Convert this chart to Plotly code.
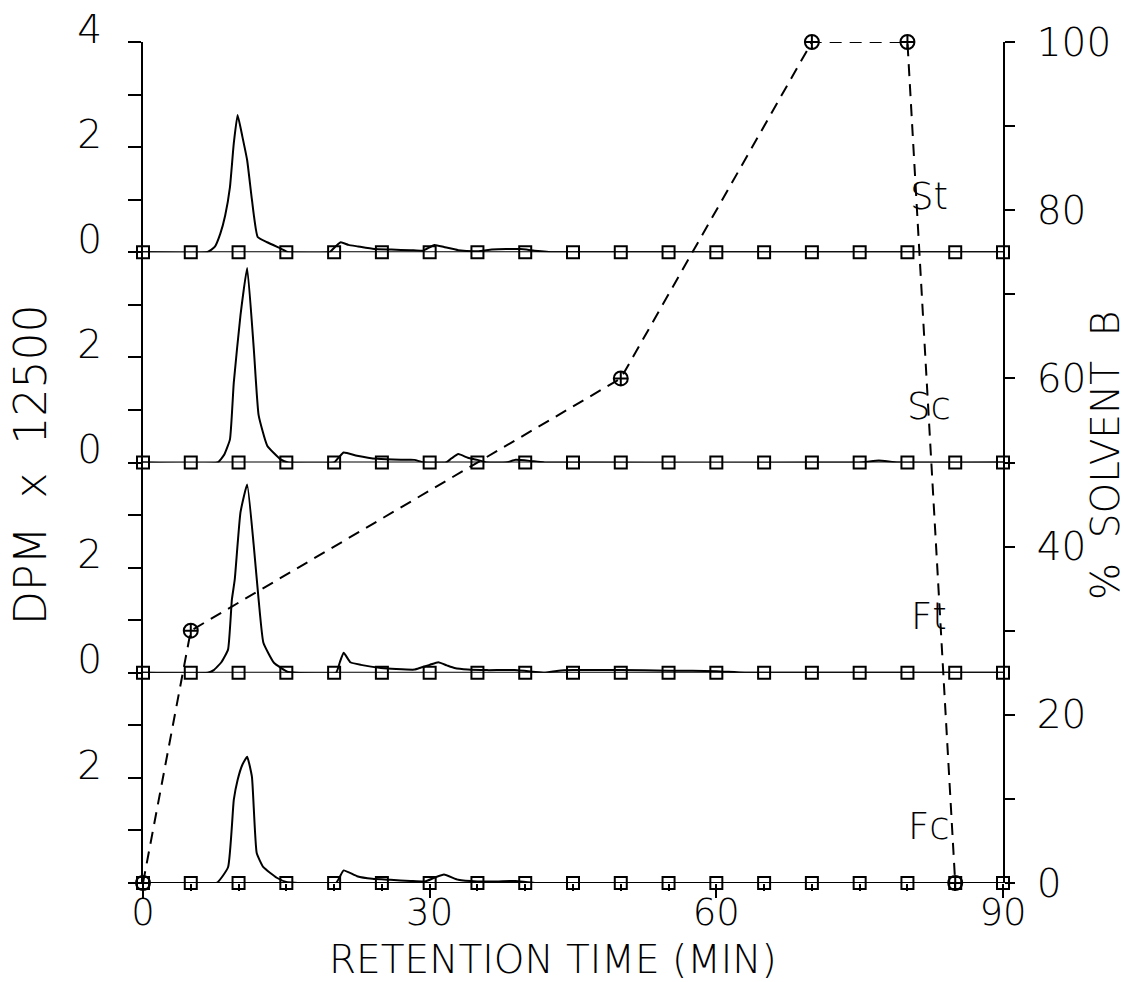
import plotly.graph_objects as go

# ---------------- data ----------------
marker_times = [0, 5, 10, 15, 20, 25, 30, 35, 40, 45, 50, 55, 60, 65, 70, 75, 80, 85, 90]

st_t = [0, 6.7, 7.5, 8.1, 8.6, 9.1, 9.5, 9.9, 10.4, 10.9, 11.4, 12.0, 13.0, 14.4, 15.2, 19.5, 20.2, 20.7,
        21.5, 22.5, 24.2, 26, 28, 29.3, 30.5, 31.5, 33, 35, 36.5, 38, 39.5, 41, 43, 90]
st_v = [0, 0, 0.1, 0.36, 0.7, 1.24, 2.07, 2.61, 2.2, 1.75, 1.0, 0.29, 0.19, 0.07, 0, 0, 0.12, 0.19,
        0.14, 0.11, 0.06, 0.05, 0.04, 0.03, 0.14, 0.1, 0.04, 0.02, 0.05, 0.06, 0.06, 0.03, 0, 0]

sc_t = [0, 7.8, 8.5, 9.1, 9.5, 10.2, 10.9, 11.6, 12.1, 13.0, 14.4, 15.2, 20.0, 20.5, 21.0, 22.4, 24.5,
        27, 28.4, 29.4, 31.7, 32.3, 33.0, 34, 35, 36, 38, 39, 40.5, 42, 75, 77, 79, 90]
sc_v = [0, 0, 0.15, 0.44, 1.52, 2.8, 3.7, 2.15, 0.9, 0.32, 0.06, 0, 0, 0.1, 0.19, 0.13, 0.07,
        0.05, 0.05, 0, 0, 0.08, 0.16, 0.09, 0.05, 0, 0, 0.05, 0.03, 0, 0, 0.04, 0, 0]

ft_t = [0, 6.8, 7.4, 8.2, 8.9, 9.3, 9.6, 10.2, 10.9, 11.6, 12.1, 12.6, 13.7, 15.1, 16, 20.2, 20.6, 21.0,
        21.7, 22.8, 24.9, 26.5, 28.4, 29.1, 30.0, 30.9, 31.8, 32.6, 34.0, 36, 38.9, 40.8, 42.0, 43.5, 45,
        50, 55, 60, 63, 90]
ft_v = [0, 0, 0.05, 0.2, 0.44, 1.39, 1.77, 3.05, 3.58, 2.4, 1.39, 0.57, 0.19, 0.02, 0, 0, 0.2, 0.38,
        0.2, 0.15, 0.09, 0.07, 0.06, 0.1, 0.15, 0.2, 0.14, 0.09, 0.06, 0.05, 0.05, 0.02, 0, 0.04, 0.05,
        0.05, 0.04, 0.03, 0, 0]

fc_t = [0, 7.7, 8.9, 9.5, 9.9, 10.4, 10.9, 11.4, 11.9, 12.6, 14.0, 15.0, 20.2, 20.6, 21.0, 22.4, 24,
        25.9, 28, 29.5, 30.5, 31.5, 33, 35, 37, 39, 41, 90]
fc_v = [0, 0, 0.3, 1.58, 1.96, 2.25, 2.4, 2.02, 0.57, 0.3, 0.1, 0.02, 0, 0.12, 0.24, 0.13, 0.08,
        0.06, 0.04, 0.03, 0.1, 0.16, 0.06, 0.03, 0.03, 0.04, 0, 0]

grad_t = [0, 5, 50, 70, 80, 85]
grad_b = [0, 30, 60, 100, 100, 0]

panel_names = ["St", "Sc", "Ft", "Fc"]
x_ticks = [0, 30, 60, 90]
x_ticktext = ["0", "30", "60", "90"]
right_ticks = [0, 10, 20, 30, 40, 50, 60, 70, 80, 90, 100]
right_ticktext = ["0", "", "20", "", "40", "", "60", "", "80", "", "100"]

# ---------------- figure ----------------
FONT = "DejaVu Sans"
W = 200
fig = go.Figure()

panels = [  # name, t, v, yaxis
    ("St", st_t, st_v, "y4"),
    ("Sc", sc_t, sc_v, "y3"),
    ("Ft", ft_t, ft_v, "y2"),
    ("Fc", fc_t, fc_v, "y"),
]

for name, t, v, ya in panels:
    fig.add_trace(go.Scatter(x=t, y=v, mode="lines", yaxis=ya, xaxis="x",
                             line=dict(color="black", width=2, shape="spline", smoothing=0.4),
                             cliponaxis=False, showlegend=False, hoverinfo="skip"))
for name, t, v, ya in panels:
    fig.add_trace(go.Scatter(x=marker_times, y=[0] * len(marker_times), mode="lines+markers",
                             yaxis=ya, xaxis="x", cliponaxis=False,
                             line=dict(color="black", width=2.2),
                             marker=dict(symbol="square-open", size=12, color="black",
                                         line=dict(width=2, color="black")),
                             showlegend=False, hoverinfo="skip"))

fig.add_trace(go.Scatter(x=grad_t, y=grad_b, mode="lines+markers", yaxis="y5", xaxis="x",
                         cliponaxis=False,
                         line=dict(color="black", width=2, dash="12px,8px"),
                         marker=dict(symbol="circle-cross-open", size=14, color="black",
                                     line=dict(width=2, color="black")),
                         showlegend=False, hoverinfo="skip"))

tickfont = dict(family=FONT, size=39, color="black", weight=W)

def left_axis(domain, tickvals, ticktext):
    return dict(domain=domain, range=[0, 4], anchor="x", side="left",
                tickmode="array", tickvals=tickvals, ticktext=ticktext,
                ticks="outside", ticklen=13, tickwidth=2, tickcolor="black",
                showline=True, linewidth=2, linecolor="black",
                showgrid=False, zeroline=False, tickfont=tickfont, automargin=False,
                ticklabelshift=-13, ticklabelstandoff=18, fixedrange=True)

fig.update_layout(
    width=1135, height=982, autosize=False,
    margin=dict(l=143, r=132, t=42, b=99),
    paper_bgcolor="white", plot_bgcolor="rgba(0,0,0,0)",
    xaxis=dict(range=[0, 90], domain=[0, 1], anchor="y", tickmode="array", tickvals=x_ticks,
               ticktext=x_ticktext, ticks="outside", ticklen=14, tickwidth=2, tickcolor="black",
               minor=dict(dtick=5, tick0=0, ticks="outside", ticklen=7, tickwidth=2, tickcolor="black"),
               showline=False, showgrid=False, zeroline=False,
               tickfont=dict(family=FONT, size=37, color="black", weight=W),
               automargin=False, ticklabelstandoff=-17),
    yaxis=left_axis([0, 0.25], [0, 1, 2, 3], ["", "", "2", ""]),
    yaxis2=left_axis([0.25, 0.5], [0, 1, 2, 3], ["0", "", "2", ""]),
    yaxis3=left_axis([0.5, 0.75], [0, 1, 2, 3], ["0", "", "2", ""]),
    yaxis4=left_axis([0.75, 1.0], [0, 1, 2, 3, 4], ["0", "", "2", "", "4"]),
    yaxis5=dict(domain=[0, 1], range=[0, 100], anchor="x", side="right",
                tickmode="array", tickvals=right_ticks, ticktext=right_ticktext,
                ticks="outside", ticklen=10, tickwidth=2, tickcolor="black",
                showline=True, linewidth=2, linecolor="black", automargin=False,
                showgrid=False, zeroline=False, tickfont=tickfont, ticklabelstandoff=14),
    showlegend=False,
)

fig.add_annotation(text="DPM  x  12500", xref="paper", yref="paper", x=-0.1315, y=0.497,
                   textangle=-90, showarrow=False,
                   font=dict(family=FONT, size=44, color="black", weight=W),
                   xanchor="center", yanchor="middle")
fig.add_annotation(text="%  SOLVENT  B", xref="paper", yref="paper", x=1.119, y=0.508,
                   textangle=-90, showarrow=False,
                   font=dict(family=FONT, size=39, color="black", weight=W),
                   xanchor="center", yanchor="middle")
fig.add_annotation(text="RETENTION TIME (MIN)", xref="paper", yref="paper", x=0.477, y=-0.0915,
                   showarrow=False, font=dict(family=FONT, size=39, color="black", weight=W),
                   xanchor="center", yanchor="middle")

for name, t, v, ya in panels:
    fig.add_annotation(text=name, xref="x", yref=ya, x=82.3, y=1.07, showarrow=False,
                       font=dict(family=FONT, size=37, color="black", weight=W),
                       xanchor="center", yanchor="middle")

fig.write_html("out.html")
